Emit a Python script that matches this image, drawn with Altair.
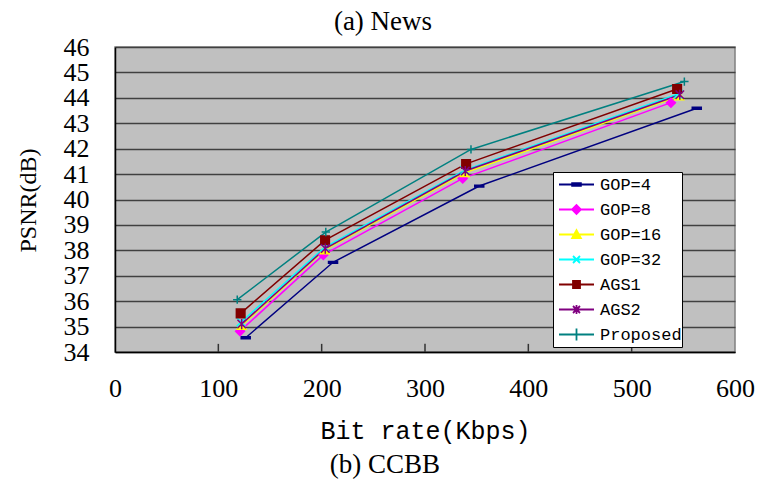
import altair as alt
import pandas as pd

# ---------------- data ----------------
series_names = ["GOP=4", "GOP=8", "GOP=16", "GOP=32", "AGS1", "AGS2", "Proposed"]

gop4_rate = [126.5, 211.0, 352.5, 563.0]
gop4_psnr = [34.56, 37.53, 40.53, 43.59]
gop8_rate = [121.0, 201.6, 336.5, 538.0]
gop8_psnr = [34.82, 37.82, 40.83, 43.81]
gop16_rate = [122.5, 203.0, 338.5, 546.0]
gop16_psnr = [35.04, 38.02, 41.05, 44.07]
gop32_rate = [122.0, 203.0, 338.5, 545.0]
gop32_psnr = [35.18, 38.12, 41.15, 44.15]
ags1_rate = [121.6, 203.3, 339.8, 544.0]
ags1_psnr = [35.52, 38.40, 41.40, 44.35]
ags2_rate = [122.6, 203.5, 339.0, 546.6]
ags2_psnr = [35.10, 38.07, 41.12, 44.12]
prop_rate = [118.3, 204.0, 344.5, 551.0]
prop_psnr = [36.06, 38.72, 41.97, 44.64]

x_ticks = [0, 100, 200, 300, 400, 500, 600]
inner_x_ticks = [100, 200, 300, 400, 500]
y_ticks = list(range(34, 47))

title_top = "(a) News"
title_bottom = "(b) CCBB"
x_title = "Bit rate(Kbps)"
y_title = "PSNR(dB)"

# ---------------- styles ----------------
line_colors = ["#000080", "#FF00FF", "#FFFF00", "#00FFFF", "#800000", "#800080", "#008080"]
fill_colors = ["#000080", "#FF00FF", "#FFFF00", "transparent", "#800000", "transparent", "transparent"]
shape_paths = [
    "M-1,-0.2L1,-0.2L1,0.2L-1,0.2Z",
    "diamond",
    "triangle-up",
    "M-1,-1L1,1M-1,1L1,-1",
    "square",
    "M-1,-1L1,1M-1,1L1,-1M0,-1.2L0,1.2",
    "M-1,0L1,0M0,-1L0,1",
]
marker_sizes = [81, 70, 60, 64, 49, 64, 160]
# legend symbols: a short line with the marker in its middle
legend_paths = [
    "M-1,0L1,0M-0.25,-0.08L0.25,-0.08L0.25,0.08L-0.25,0.08Z",
    "M-1,0L1,0M-0.25,0L0,-0.25L0.25,0L0,0.25Z",
    "M-1,0L1,0M0,-0.25L0.25,0.2L-0.25,0.2Z",
    "M-1,0L1,0M-0.2,-0.2L0.2,0.2M-0.2,0.2L0.2,-0.2",
    "M-1,0L1,0M-0.2,-0.2L0.2,-0.2L0.2,0.2L-0.2,0.2Z",
    "M-1,0L1,0M-0.2,-0.2L0.2,0.2M-0.2,0.2L0.2,-0.2M0,-0.26L0,0.26",
    "M-1,0L1,0M0,-0.34L0,0.34",
]

rows = []
all_rates = [gop4_rate, gop8_rate, gop16_rate, gop32_rate, ags1_rate, ags2_rate, prop_rate]
all_psnr = [gop4_psnr, gop8_psnr, gop16_psnr, gop32_psnr, ags1_psnr, ags2_psnr, prop_psnr]
for i, name in enumerate(series_names):
    for r, p in zip(all_rates[i], all_psnr[i]):
        rows.append({"series": name, "legend_series": name, "order": i, "rate": r, "psnr": p})
df = pd.DataFrame(rows)

W, H = 620, 305

xscale = alt.Scale(domain=[0, 600], nice=False, zero=False)
yscale = alt.Scale(domain=[34, 46], nice=False, zero=False)

xaxis = alt.Axis(values=x_ticks, title=x_title, grid=False, ticks=False,
                 labelFont="Liberation Serif", labelFontSize=26, labelColor="black",
                 labelPadding=36, labelBaseline="middle", labelFlush=False,
                 labelOverlap=False,
                 domainColor="black", domainWidth=1.5,
                 titleFont="Liberation Mono", titleFontSize=25, titleFontWeight="normal",
                 titleColor="black", titleY=78, titleBaseline="middle")
yaxis = alt.Axis(values=y_ticks, title=y_title, grid=True, gridColor="#404040",
                 gridWidth=1.3, ticks=False,
                 labelFont="Liberation Serif", labelFontSize=26, labelColor="black",
                 labelPadding=26, labelOverlap=False, labelFlush=False,
                 domainColor="black", domainWidth=1.5,
                 titleFont="Liberation Serif", titleFontSize=24, titleFontWeight="normal",
                 titleColor="black", titleX=-87, titleY=153, titleBaseline="middle",
                 titleAlign="center", titleAngle=-90)

leg = alt.Legend(title=None, orient="none", legendX=438, legendY=125, direction="vertical",
                 columns=1, clipHeight=25, rowPadding=0, padding=0,
                 symbolSize=1225, symbolStrokeWidth=1.8, symbolOffset=5, labelOffset=5,
                 symbolOpacity=1,
                 labelFont="Liberation Mono", labelFontSize=17, labelColor="black",
                 fillColor="white", strokeColor="black")

base = alt.Chart(df)

lines = base.mark_line(strokeWidth=1.5).encode(
    x=alt.X("rate:Q", scale=xscale, axis=xaxis),
    y=alt.Y("psnr:Q", scale=yscale, axis=yaxis),
    color=alt.Color("series:N", scale=alt.Scale(domain=series_names, range=line_colors),
                    legend=None),
    order="order:Q",
)

points = base.mark_point(filled=False, opacity=1, strokeWidth=1.5).encode(
    x=alt.X("rate:Q", scale=xscale, axis=xaxis),
    y=alt.Y("psnr:Q", scale=yscale, axis=yaxis),
    shape=alt.Shape("series:N", scale=alt.Scale(domain=series_names, range=shape_paths),
                    legend=None),
    stroke=alt.Stroke("series:N", scale=alt.Scale(domain=series_names, range=line_colors),
                      legend=None),
    fill=alt.Fill("series:N", scale=alt.Scale(domain=series_names, range=fill_colors),
                  legend=None),
    size=alt.Size("series:N", scale=alt.Scale(domain=series_names, range=marker_sizes),
                  legend=None),
)

# invisible layer that only carries the legend (line + marker symbols)
legend_layer = base.mark_point(filled=False, opacity=0, size=0).encode(
    x=alt.X("rate:Q", scale=xscale, axis=xaxis),
    y=alt.Y("psnr:Q", scale=yscale, axis=yaxis),
    shape=alt.Shape("legend_series:N",
                    scale=alt.Scale(domain=series_names, range=legend_paths), legend=leg),
    stroke=alt.Stroke("legend_series:N",
                      scale=alt.Scale(domain=series_names, range=line_colors), legend=leg),
    fill=alt.Fill("legend_series:N",
                  scale=alt.Scale(domain=series_names, range=fill_colors), legend=leg),
)

tick_df = pd.DataFrame({"rate": inner_x_ticks, "psnr": [34.0] * len(inner_x_ticks),
                        "psnr2": [34.32] * len(inner_x_ticks)})
inner_ticks = alt.Chart(tick_df).mark_rule(color="#333333", strokeWidth=1.5).encode(
    x=alt.X("rate:Q", scale=xscale, axis=xaxis),
    y=alt.Y("psnr:Q", scale=yscale, axis=yaxis),
    y2="psnr2:Q",
)

top_txt = alt.Chart(pd.DataFrame({"t": [title_top]})).mark_text(
    font="Liberation Serif", fontSize=27, color="black", baseline="middle", align="center"
).encode(text="t:N", x=alt.value(268), y=alt.value(-25))

bot_txt = alt.Chart(pd.DataFrame({"t": [title_bottom]})).mark_text(
    font="Liberation Serif", fontSize=27, color="black", baseline="middle", align="center"
).encode(text="t:N", x=alt.value(270), y=alt.value(418))

chart = alt.layer(inner_ticks, lines, points, legend_layer, top_txt, bot_txt).resolve_scale(
    shape="independent", stroke="independent", fill="independent", color="independent",
    size="independent"
).resolve_legend(
    shape="independent", stroke="independent", fill="independent", color="independent",
    size="independent"
).properties(
    width=W, height=H,
    autosize=alt.AutoSizeParams(type="none"),
    padding={"left": 115, "top": 47, "right": 23, "bottom": 128},
    background="white",
).configure_view(fill="#C0C0C0", stroke="#808080", strokeWidth=1.5)

chart.save("out.html", embed_options={"renderer": "svg", "actions": False})
